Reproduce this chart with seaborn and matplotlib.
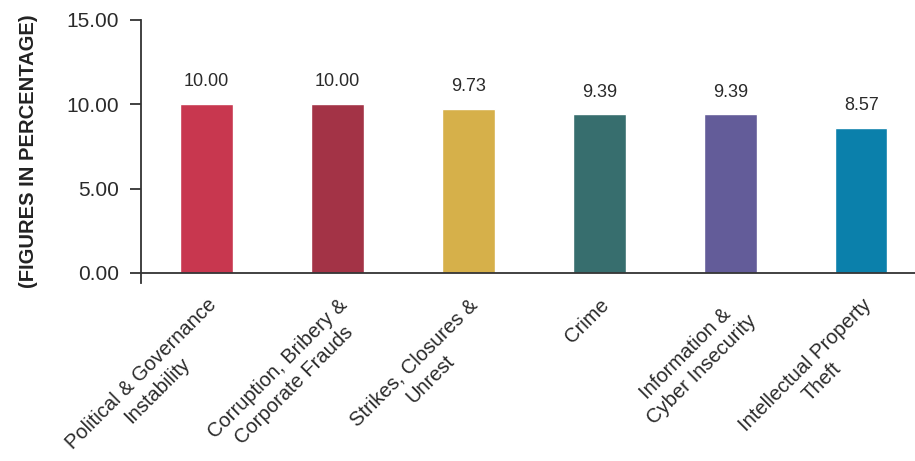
import matplotlib
matplotlib.use("Agg")
import matplotlib.pyplot as plt
import seaborn as sns
import pandas as pd

categories = [
    "Political & Governance\nInstability",
    "Corruption, Bribery &\nCorporate Frauds",
    "Strikes, Closures &\nUnrest",
    "Crime",
    "Information &\nCyber Insecurity",
    "Intellectual Property\nTheft",
]
values = [10.00, 10.00, 9.73, 9.39, 9.39, 8.57]
colors = ["#C8374F", "#A33346", "#D6B04A", "#376E6E", "#635C99", "#0B80AB"]
yticks = [0, 5, 10, 15]

sns.set_theme(style="white")
plt.rcParams["font.family"] = ["Liberation Sans", "DejaVu Sans"]

df = pd.DataFrame({"cat": categories, "val": values})

fig = plt.figure(figsize=(9.15, 4.61), dpi=100)
ax = fig.add_axes([0.154, 0.386, 0.846, 0.571])
sns.barplot(data=df, x="cat", y="val", hue="cat", palette=colors,
            width=0.4, legend=False, ax=ax, saturation=1)

for c in ax.containers:
    ax.bar_label(c, fmt="%.2f", padding=10, fontsize=13, color="#2a2a2a")

ax.set_ylim(-0.6, 15)
ax.set_xlim(-0.5, 5.41)
ax.set_yticks(yticks)
ax.set_yticklabels([f"{v:.2f}" for v in yticks], fontsize=15, color="#2a2a2a")
ax.spines["bottom"].set_position(("data", 0))
for s in ["top", "right"]:
    ax.spines[s].set_visible(False)
for s in ["left", "bottom"]:
    ax.spines[s].set_color("#333333")
    ax.spines[s].set_linewidth(1.3)
ax.tick_params(axis="y", left=True, length=8, width=1.3, color="#333333", pad=8)
ax.tick_params(axis="x", bottom=False, pad=10)
ax.set_xlabel("")
ax.set_ylabel("(FIGURES IN PERCENTAGE)", fontsize=14.5, fontweight="bold",
              color="#222222", labelpad=20)
ax.set_xticks(range(len(categories)))
ax.set_xticklabels(categories, rotation=45, ha="right", rotation_mode="anchor",
                   multialignment="center", fontsize=14.5, color="#2a2a2a",
                   linespacing=1.3)

fig.savefig("out.png", dpi=100)
